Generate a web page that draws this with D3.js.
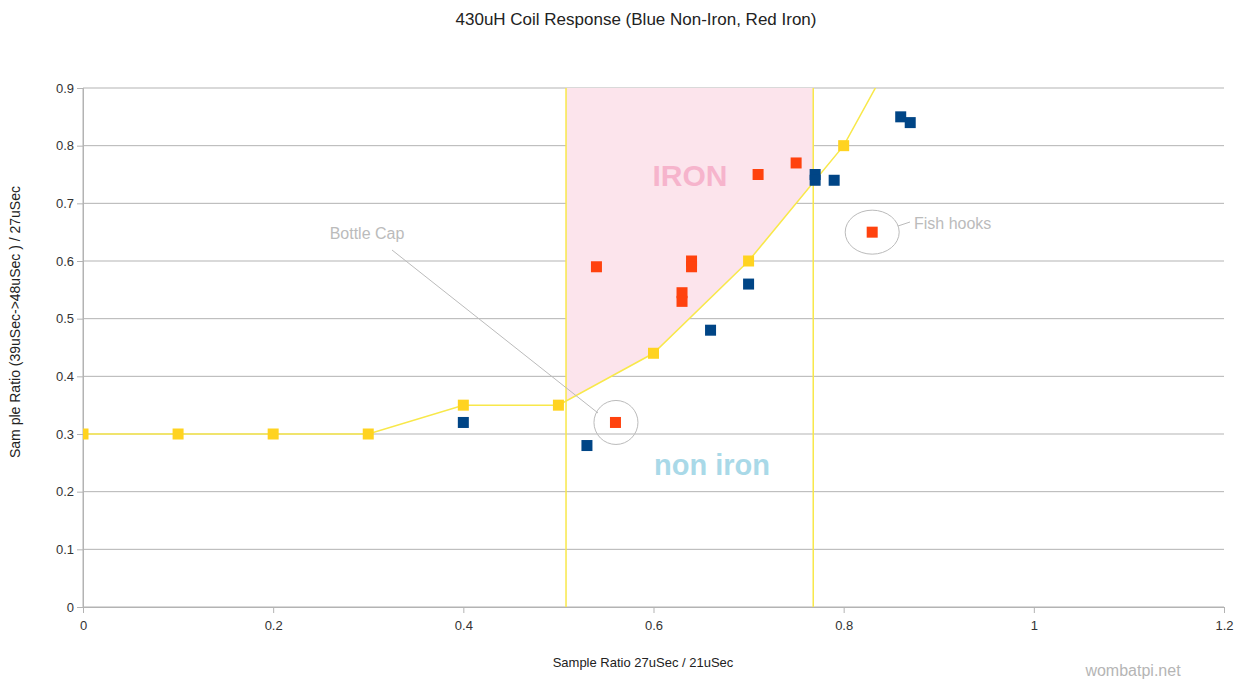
<!DOCTYPE html>
<html>
<head>
<meta charset="utf-8">
<script src="https://cdn.jsdelivr.net/npm/d3@7"></script>
<style>
body { margin: 0; background: #fff; }
text { font-family: "Liberation Sans", Arial, sans-serif; }
</style>
</head>
<body>
<div class="chart"></div>
<script>
var width = 1238,
    height = 681,
    margin = {top: 88, right: 14, bottom: 74, left: 83};

// boundary line (yellow)
var boundaryX = [0, 0.1, 0.2, 0.3, 0.4, 0.5, 0.6, 0.7, 0.8, 0.9];
var boundaryY = [0.3, 0.3, 0.3, 0.3, 0.35, 0.35, 0.44, 0.6, 0.8, 1.1];

// non iron (blue)
var blueX = [0.4, 0.53, 0.66, 0.70, 0.77, 0.77, 0.79, 0.86, 0.87];
var blueY = [0.32, 0.28, 0.48, 0.56, 0.75, 0.74, 0.74, 0.85, 0.84];

// iron (red)
var redX = [0.54, 0.56, 0.63, 0.63, 0.64, 0.64, 0.71, 0.75, 0.83];
var redY = [0.59, 0.32, 0.545, 0.53, 0.6, 0.59, 0.75, 0.77, 0.65];

var ironBand = [0.508, 0.768];
var xTicks = [0, 0.2, 0.4, 0.6, 0.8, 1, 1.2];
var yTicks = [0, 0.1, 0.2, 0.3, 0.4, 0.5, 0.6, 0.7, 0.8, 0.9];

var svg = d3.select(".chart").append("svg")
    .attr("width", width)
    .attr("height", height);

var x = d3.scaleLinear().domain([0, 1.2]).range([margin.left, width - margin.right]);
var y = d3.scaleLinear().domain([0, 0.9]).range([height - margin.bottom, margin.top]);

svg.append("defs").append("clipPath").attr("id", "plot")
  .append("rect")
    .attr("x", x(0)).attr("y", y(0.9))
    .attr("width", x(1.2) - x(0)).attr("height", y(0) - y(0.9));

// title
svg.append("text")
    .attr("x", 636).attr("y", 25)
    .attr("text-anchor", "middle")
    .attr("font-size", "17px")
    .attr("fill", "#222")
    .text("430uH Coil Response (Blue Non-Iron, Red Iron)");

// grid
svg.append("g").selectAll("line")
    .data(yTicks).enter().append("line")
    .attr("x1", x(0)).attr("x2", x(1.2))
    .attr("y1", function(d) { return y(d); })
    .attr("y2", function(d) { return y(d); })
    .attr("stroke", "#b3b3b3");

// iron region
var boundary = boundaryX.map(function(d, i) { return [d, boundaryY[i]]; });
function lineAt(v) {
  for (var i = 1; i < boundary.length; i++) {
    if (v <= boundary[i][0]) {
      var a = boundary[i - 1], b = boundary[i];
      return a[1] + (b[1] - a[1]) * (v - a[0]) / (b[0] - a[0]);
    }
  }
}
var region = [[ironBand[0], 0.9], [ironBand[1], 0.9], [ironBand[1], lineAt(ironBand[1])]];
boundary.filter(function(d) { return d[0] > ironBand[0] && d[0] < ironBand[1]; })
  .reverse().forEach(function(d) { region.push(d); });
region.push([ironBand[0], lineAt(ironBand[0])]);

svg.append("path")
    .datum(region)
    .attr("d", d3.line().x(function(d) { return x(d[0]); }).y(function(d) { return y(d[1]); }))
    .attr("fill", "#fce4ec");

svg.selectAll(".band")
    .data(ironBand).enter().append("line")
    .attr("x1", function(d) { return x(d); })
    .attr("x2", function(d) { return x(d); })
    .attr("y1", y(0.9)).attr("y2", y(0))
    .attr("stroke", "#f8e84a").attr("stroke-width", 1.5);

// axes
svg.append("line")
    .attr("x1", x(0)).attr("x2", x(0)).attr("y1", y(0.9)).attr("y2", y(0))
    .attr("stroke", "#b3b3b3");

var xAxis = svg.append("g")
    .attr("transform", "translate(0," + y(0) + ")")
    .call(d3.axisBottom(x).tickValues(xTicks).tickSize(6).tickPadding(8).tickFormat(d3.format("")));
var yAxis = svg.append("g")
    .attr("transform", "translate(" + x(0) + ",0)")
    .call(d3.axisLeft(y).tickValues(yTicks).tickSize(6).tickPadding(3).tickFormat(d3.format("")));
[xAxis, yAxis].forEach(function(a) {
  a.select(".domain").attr("stroke", "#b3b3b3");
  a.selectAll(".tick line").attr("stroke", "#b3b3b3");
  a.selectAll(".tick text").attr("font-size", "13px").attr("fill", "#333")
    .attr("font-family", "Liberation Sans, Arial, sans-serif");
});

// axis titles
svg.append("text")
    .attr("x", 643).attr("y", 667)
    .attr("text-anchor", "middle")
    .attr("font-size", "13px").attr("fill", "#222")
    .text("Sample Ratio 27uSec / 21uSec");
svg.append("text")
    .attr("transform", "translate(20,322) rotate(-90)")
    .attr("text-anchor", "middle")
    .attr("font-size", "14px").attr("fill", "#222")
    .text("Sam ple Ratio (39uSec->48uSec ) / 27uSec");

// boundary line
var plot = svg.append("g").attr("clip-path", "url(#plot)");
plot.append("path")
    .datum(boundary)
    .attr("d", d3.line().x(function(d) { return x(d[0]); }).y(function(d) { return y(d[1]); }))
    .attr("fill", "none")
    .attr("stroke", "#f8e84a").attr("stroke-width", 1.5);

// labels
svg.append("text")
    .attr("x", 690).attr("y", 186)
    .attr("text-anchor", "middle")
    .attr("font-size", "30px").attr("font-weight", "bold")
    .attr("fill", "#f6b4cc")
    .text("IRON");
svg.append("text")
    .attr("x", 712).attr("y", 475)
    .attr("text-anchor", "middle")
    .attr("font-size", "29px").attr("font-weight", "bold")
    .attr("fill", "#a9d9e8")
    .text("non iron");

// annotations
svg.append("line")
    .attr("x1", 392).attr("y1", 250).attr("x2", 598).attr("y2", 413)
    .attr("stroke", "#bbb");
svg.append("ellipse")
    .attr("cx", x(0.56) + 0.5).attr("cy", y(0.32))
    .attr("rx", 22).attr("ry", 22)
    .attr("fill", "none").attr("stroke", "#bbb");
svg.append("text")
    .attr("x", 367).attr("y", 239)
    .attr("text-anchor", "middle")
    .attr("font-size", "16px").attr("fill", "#bbb")
    .text("Bottle Cap");

svg.append("ellipse")
    .attr("cx", x(0.83)).attr("cy", y(0.65))
    .attr("rx", 27).attr("ry", 22)
    .attr("fill", "none").attr("stroke", "#bbb");
svg.append("line")
    .attr("x1", 898).attr("y1", 226).attr("x2", 910).attr("y2", 222)
    .attr("stroke", "#bbb");
svg.append("text")
    .attr("x", 914).attr("y", 229)
    .attr("font-size", "16px").attr("fill", "#bbb")
    .text("Fish hooks");

// markers
var s = 11;
function squares(xs, ys, color) {
  plot.append("g").selectAll("rect")
    .data(xs).enter().append("rect")
    .attr("x", function(d) { return x(d) - s / 2; })
    .attr("y", function(d, i) { return y(ys[i]) - s / 2; })
    .attr("width", s).attr("height", s)
    .attr("fill", color);
}
squares(boundaryX, boundaryY, "#ffd320");
squares(redX, redY, "#ff420e");
squares(blueX, blueY, "#004586");

svg.append("text")
    .attr("x", 1133).attr("y", 676)
    .attr("text-anchor", "middle")
    .attr("font-size", "16px").attr("fill", "#b5b5b5")
    .text("wombatpi.net");
</script>
</body>
</html>
